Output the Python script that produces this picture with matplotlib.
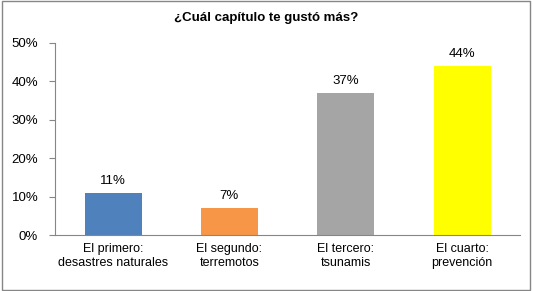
import matplotlib
matplotlib.use("Agg")
import matplotlib.pyplot as plt
from matplotlib.patches import Rectangle

categories = ["El primero:\ndesastres naturales", "El segundo:\nterremotos",
              "El tercero:\ntsunamis", "El cuarto:\nprevención"]
values = [11, 7, 37, 44]
labels = ["11%", "7%", "37%", "44%"]
colors = ["#4F81BD", "#F79646", "#A5A5A5", "#FFFF00"]
yticks = [0, 10, 20, 30, 40, 50]
ytick_labels = ["0%", "10%", "20%", "30%", "40%", "50%"]

plt.rcParams['font.family'] = ['Liberation Sans', 'DejaVu Sans']

fig = plt.figure(figsize=(5.33, 2.91), dpi=100)
fig.patches.append(Rectangle((0.003, 0.005), 0.992, 0.99, transform=fig.transFigure,
                             fill=False, edgecolor="#868686", linewidth=1.0))
ax = fig.add_axes([0.103, 0.1924, 0.873, 0.66])

x = list(range(len(categories)))
ax.bar(x, values, width=0.49, color=colors)
for xi, v, lab in zip(x, values, labels):
    ax.text(xi, v + 1.5, lab, ha="center", va="bottom", fontsize=9.5)

ax.set_xlim(-0.5, len(categories) - 0.5)
ax.set_ylim(0, 50)
ax.set_yticks(yticks)
ax.set_yticklabels(ytick_labels, fontsize=9.5)
ax.set_xticks(x)
ax.set_xticklabels(categories, fontsize=9, linespacing=1.2)
ax.tick_params(axis="x", length=0, pad=6)
ax.tick_params(axis="y", length=4, color="#868686", pad=8)
for s in ["top", "right"]:
    ax.spines[s].set_visible(False)
for s in ["left", "bottom"]:
    ax.spines[s].set_color("#868686")

fig.text(0.5, 0.937, "¿Cuál capítulo te gustó más?", ha="center", va="center",
         fontsize=9.5, fontweight="bold")

fig.savefig("out.png", dpi=100)
